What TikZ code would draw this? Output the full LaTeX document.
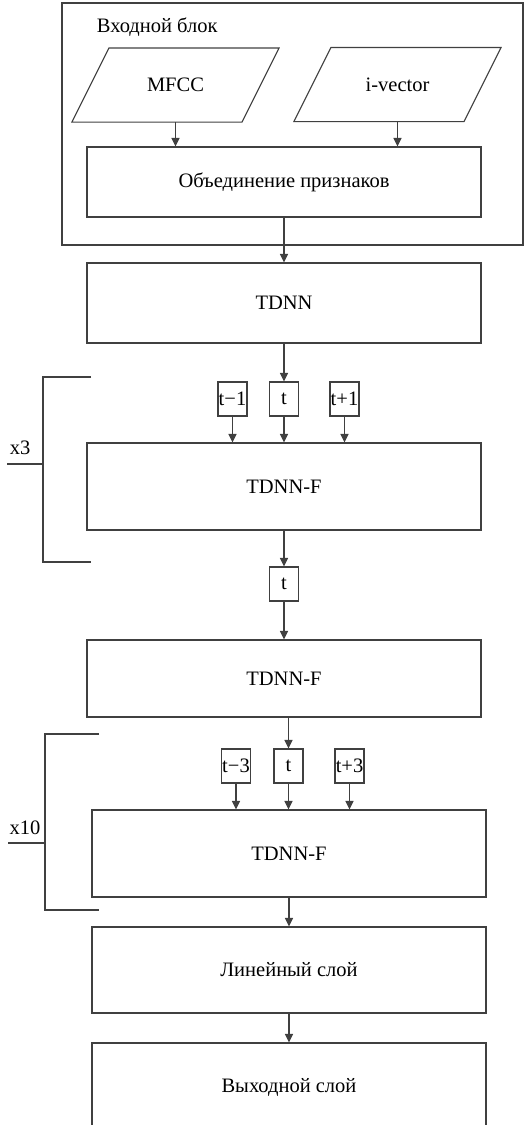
\documentclass[tikz,border=0pt]{standalone}
\usepackage{fontspec}
\setmainfont{Liberation Serif}
\usetikzlibrary{arrows.meta,positioning}

\begin{document}
\begin{tikzpicture}[x=1pt,y=-1pt,line width=1.1pt,color=black!75,text=black,
    every node/.style={font=\fontsize{20.5}{24}\selectfont},
    layer/.style={draw,minimum width=394pt,inner sep=0pt},
    tap/.style={draw,minimum width=29pt,minimum height=34pt,inner sep=0pt},
    datain/.style={minimum width=169pt,minimum height=73pt,inner sep=0pt},
    >={Triangle[length=8.5pt,width=8pt]}]
  \useasboundingbox (0,0) rectangle (526,1125);
  % input block
  \node[draw,minimum width=461pt,minimum height=242pt,inner sep=0pt] (inp) at (292.5,124) {};
  \node[anchor=west] (inplbl) at (93,27) {Входной блок};
  \node[datain] (mfcc) at (175.5,85) {MFCC};
  \node[datain] (ivec) at (397.5,84.5) {i-vector};
  \foreach \d in {mfcc,ivec}{
    \draw ([xshift=-18.5pt]\d.south west) -- ([xshift=18.5pt]\d.north west)
      -- ([xshift=18.5pt]\d.north east) -- ([xshift=-18.5pt]\d.south east) -- cycle;
  }
  \node[layer,minimum height=70pt] (merge) at (284,182) {Объединение признаков};
  \draw[->] (mfcc.south) -- (mfcc.south |- merge.north);
  \draw[->] (ivec.south) -- (ivec.south |- merge.north);
  % layers
  \node[layer,minimum height=80pt] (tdnn) at (284,303) {TDNN};
  \draw[->] (merge.south) -- (tdnn.north);
  \foreach \n/\x/\t in {a/232.5/t−1,b/284/t,c/344.5/t+1}{
    \node[tap] (p\n) at (\x,399) {\t};
  }
  \node[layer,minimum height=87pt] (f1) at (284,486.5) {TDNN-F};
  \draw[->] (tdnn.south) -- (pb.north);
  \foreach \n in {a,b,c}{
    \draw[->] (p\n.south) -- (p\n.south |- f1.north);
  }
  \node[tap] (s) at (284,584) {t};
  \node[layer,minimum height=77pt] (f2) at (284,678.5) {TDNN-F};
  \draw[->] (f1.south) -- (s.north);
  \draw[->] (s.south) -- (f2.north);
  \foreach \n/\x/\t in {a/236/t−3,b/288.5/t,c/349.5/t+3}{
    \node[tap] (q\n) at (\x,766) {\t};
  }
  \node[layer,minimum height=87pt] (f3) at (289,853.5) {TDNN-F};
  \draw[->] (f2.south -| qb) -- (qb.north);
  \foreach \n in {a,b,c}{
    \draw[->] (q\n.south) -- (q\n.south |- f3.north);
  }
  \node[layer,minimum height=86pt] (lin) at (289,970) {Линейный слой};
  \node[layer,minimum height=88pt] (out) at (289,1087) {Выходной слой};
  \draw[->] (f3.south) -- (lin.north);
  \draw[->] (lin.south) -- (out.north);
  % repeat brackets
  \draw (91,377) -- (43,377) -- (43,562) -- (91,562);
  \draw (7,464) -- (43,464);
  \node (rep3) at (20,448) {x3};
  \draw (99,734) -- (45,734) -- (45,910) -- (99,910);
  \draw (8,843) -- (45,843);
  \node (rep10) at (25,828) {x10};
\end{tikzpicture}
\end{document}
